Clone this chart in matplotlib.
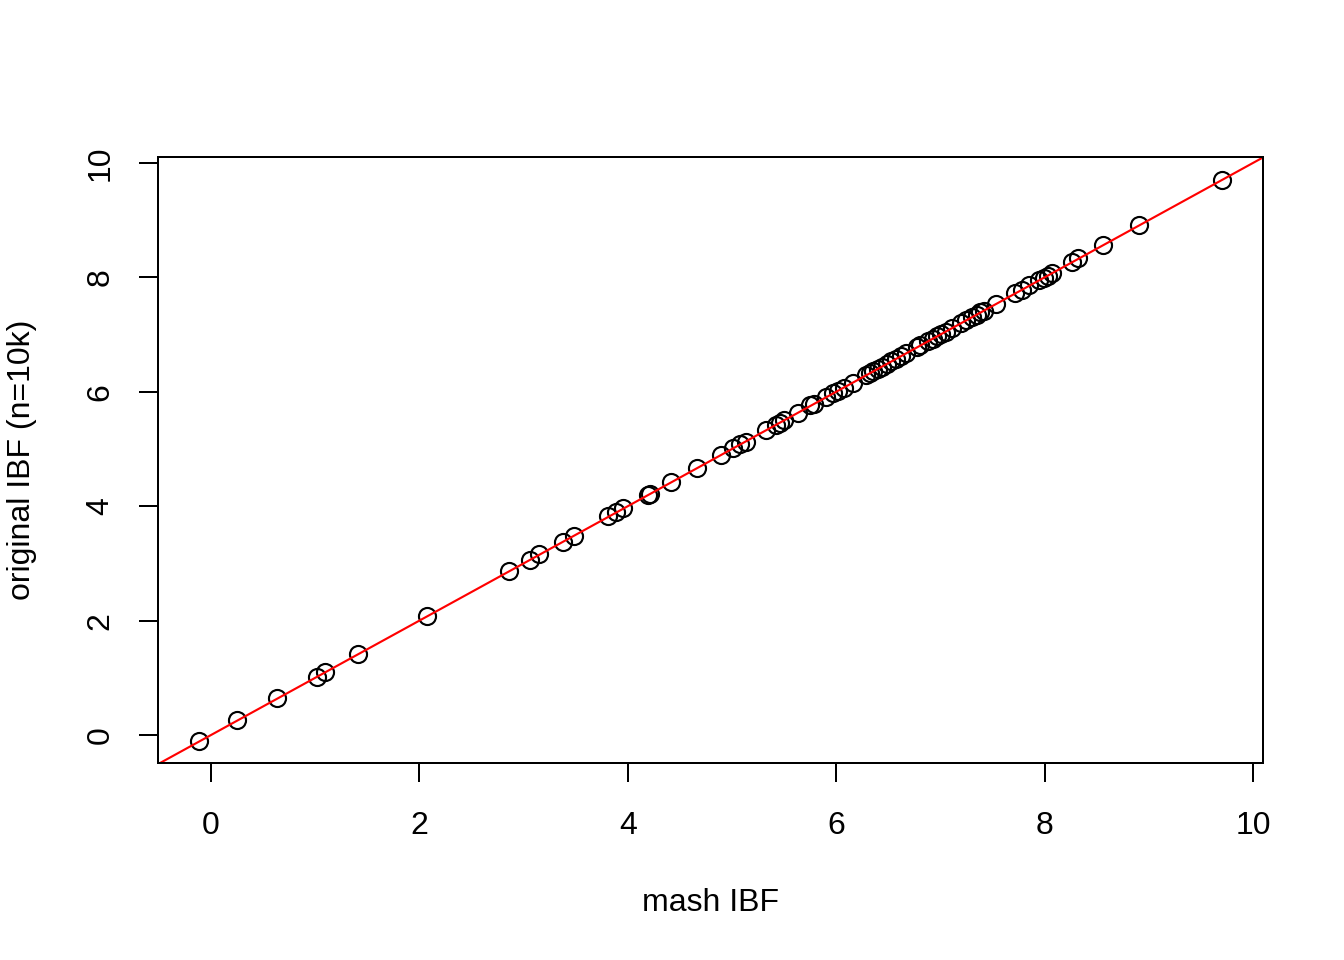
import matplotlib.pyplot as plt

plt.rcParams['font.family'] = ['Liberation Sans', 'DejaVu Sans']

# IBF estimates: mash vs original (n=10k)
mash_ibf = [-0.12, 0.25, 0.63, 1.02, 1.09, 1.41, 2.07, 2.86, 3.06, 3.15,
            3.38, 3.48, 3.81, 3.89, 3.95, 4.19, 4.21, 4.41, 4.66, 4.89,
            5.01, 5.08, 5.13, 5.33, 5.42, 5.46, 5.50, 5.63, 5.75, 5.79,
            5.90, 5.97, 6.02, 6.07, 6.16, 6.29, 6.32, 6.35, 6.40, 6.44,
            6.49, 6.53, 6.57, 6.62, 6.67, 6.78, 6.80, 6.88, 6.93, 6.97,
            7.01, 7.05, 7.11, 7.20, 7.25, 7.30, 7.35, 7.38, 7.42, 7.53,
            7.72, 7.78, 7.85, 7.95, 7.99, 8.03, 8.07, 8.26, 8.32, 8.56,
            8.91, 9.70]
orig_ibf = [-0.11, 0.26, 0.64, 1.02, 1.10, 1.42, 2.08, 2.87, 3.06, 3.16,
            3.38, 3.48, 3.82, 3.89, 3.96, 4.20, 4.21, 4.42, 4.66, 4.89,
            5.01, 5.09, 5.13, 5.33, 5.42, 5.46, 5.50, 5.63, 5.76, 5.79,
            5.91, 5.97, 6.02, 6.07, 6.16, 6.30, 6.32, 6.36, 6.40, 6.44,
            6.49, 6.54, 6.57, 6.62, 6.68, 6.78, 6.81, 6.88, 6.93, 6.98,
            7.01, 7.05, 7.11, 7.21, 7.25, 7.30, 7.35, 7.39, 7.42, 7.53,
            7.72, 7.78, 7.86, 7.95, 7.99, 8.03, 8.08, 8.26, 8.33, 8.56,
            8.91, 9.70]
ticks = [0, 2, 4, 6, 8, 10]

fig = plt.figure(figsize=(7, 5), dpi=192)
ax = fig.add_axes([0.1176, 0.2052, 0.8221, 0.6313])

ax.plot(mash_ibf, orig_ibf, 'o', markerfacecolor='none', markeredgecolor='black',
        markersize=6.4, markeredgewidth=0.8)
ax.axline((0, 0), slope=1, color='red', linewidth=0.8)

ax.set_xlim(-0.509, 10.096)
ax.set_ylim(-0.49, 10.105)
ax.set_xticks(ticks)
ax.set_yticks(ticks)
ax.set_xticklabels([str(t) for t in ticks], fontsize=12)
ax.set_yticklabels([str(t) for t in ticks], fontsize=12, rotation=90, va='center')
ax.tick_params(direction='out', length=7, width=0.75, pad=9)
ax.tick_params(axis='x', pad=11)

for s in ax.spines.values():
    s.set_linewidth(0.75)

ax.set_xlabel('mash IBF', fontsize=12, labelpad=17.5)
ax.set_ylabel('original IBF (n=10k)', fontsize=12, labelpad=18)

fig.savefig('out.png', dpi=192)
